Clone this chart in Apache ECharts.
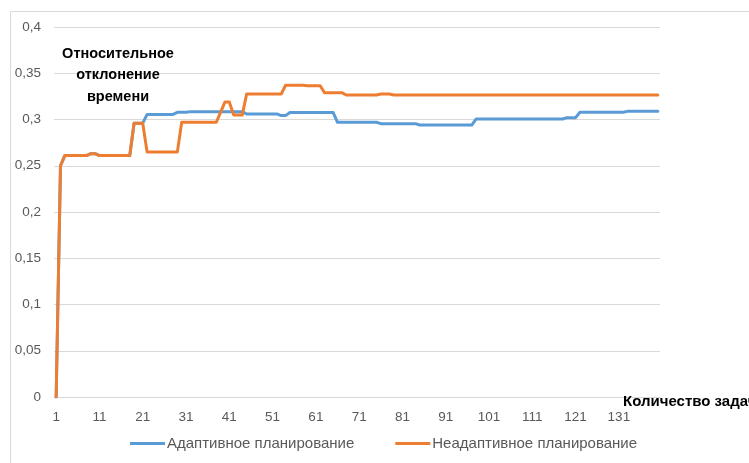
<!DOCTYPE html>
<html>
<head>
<meta charset="utf-8">
<script src="https://cdn.jsdelivr.net/npm/echarts@6/dist/echarts.min.js"></script>
<style>
html,body{margin:0;padding:0;background:#fff;}
#chart{width:749px;height:463px;}
</style>
</head>
<body>
<div id="chart"></div>
<script>
var seriesNames = ['Адаптивное планирование', 'Неадаптивное планирование'];
var yAxisTitle = 'Относительное\nотклонение\nвремени';
var xAxisTitle = 'Количество задач';
var taskCount = 140;
var categories = [];
for (var i = 1; i <= taskCount; i++) categories.push(String(i));

var adaptive = [
  0, 0.25, 0.261, 0.261, 0.261, 0.261, 0.261, 0.261, 0.263, 0.263,
  0.261, 0.261, 0.261, 0.261, 0.261, 0.261, 0.261, 0.261, 0.296, 0.296,
  0.296, 0.3055, 0.3055, 0.3055, 0.3055, 0.3055, 0.3055, 0.3055, 0.3078, 0.3078,
  0.3078, 0.3085, 0.3085, 0.3085, 0.3085, 0.3085, 0.3085, 0.3085, 0.3085, 0.3085,
  0.3085, 0.3085, 0.3085, 0.3085, 0.306, 0.306, 0.306, 0.306, 0.306, 0.306,
  0.306, 0.306, 0.3042, 0.3042, 0.3075, 0.3075, 0.3075, 0.3075, 0.3075, 0.3075,
  0.3075, 0.3075, 0.3075, 0.3075, 0.3075, 0.297, 0.297, 0.297, 0.297, 0.297,
  0.297, 0.297, 0.297, 0.297, 0.297, 0.2955, 0.2955, 0.2955, 0.2955, 0.2955,
  0.2955, 0.2955, 0.2955, 0.2955, 0.294, 0.294, 0.294, 0.294, 0.294, 0.294,
  0.294, 0.294, 0.294, 0.294, 0.294, 0.294, 0.294, 0.3005, 0.3005, 0.3005,
  0.3005, 0.3005, 0.3005, 0.3005, 0.3005, 0.3005, 0.3005, 0.3005, 0.3005, 0.3005,
  0.3005, 0.3005, 0.3005, 0.3005, 0.3005, 0.3005, 0.3005, 0.3005, 0.302, 0.302,
  0.302, 0.3078, 0.3078, 0.3078, 0.3078, 0.3078, 0.3078, 0.3078, 0.3078, 0.3078,
  0.3078, 0.3078, 0.3088, 0.3088, 0.3088, 0.3088, 0.3088, 0.3088, 0.3088, 0.3088
];

var nonAdaptive = [
  0, 0.25, 0.261, 0.261, 0.261, 0.261, 0.261, 0.261, 0.263, 0.263,
  0.261, 0.261, 0.261, 0.261, 0.261, 0.261, 0.261, 0.261, 0.296, 0.296,
  0.296, 0.265, 0.265, 0.265, 0.265, 0.265, 0.265, 0.265, 0.265, 0.297,
  0.297, 0.297, 0.297, 0.297, 0.297, 0.297, 0.297, 0.297, 0.308, 0.319,
  0.319, 0.305, 0.305, 0.305, 0.3276, 0.3276, 0.3276, 0.3276, 0.3276, 0.3276,
  0.3276, 0.3276, 0.3276, 0.337, 0.337, 0.337, 0.337, 0.337, 0.3365, 0.3365,
  0.3365, 0.3365, 0.329, 0.329, 0.329, 0.329, 0.329, 0.3265, 0.3265, 0.3265,
  0.3265, 0.3265, 0.3265, 0.3265, 0.3265, 0.3276, 0.3276, 0.3276, 0.3265, 0.3265,
  0.3265, 0.3265, 0.3265, 0.3265, 0.3265, 0.3265, 0.3265, 0.3265, 0.3265, 0.3265,
  0.3265, 0.3265, 0.3265, 0.3265, 0.3265, 0.3265, 0.3265, 0.3265, 0.3265, 0.3265,
  0.3265, 0.3265, 0.3265, 0.3265, 0.3265, 0.3265, 0.3265, 0.3265, 0.3265, 0.3265,
  0.3265, 0.3265, 0.3265, 0.3265, 0.3265, 0.3265, 0.3265, 0.3265, 0.3265, 0.3265,
  0.3265, 0.3265, 0.3265, 0.3265, 0.3265, 0.3265, 0.3265, 0.3265, 0.3265, 0.3265,
  0.3265, 0.3265, 0.3265, 0.3265, 0.3265, 0.3265, 0.3265, 0.3265, 0.3265, 0.3265
];

var yMin = 0, yMax = 0.4, yStep = 0.05;

var FONT = "'Liberation Sans', Arial, sans-serif";
var chart = echarts.init(document.getElementById('chart'), null, {renderer: 'canvas'});
chart.setOption({
  animation: false,
  backgroundColor: '#ffffff',
  grid: {left: 54, right: 89, top: 27, bottom: 66, containLabel: false},
  xAxis: {
    type: 'category',
    data: categories,
    boundaryGap: true,
    axisLine: {show: true, lineStyle: {color: '#d9d9d9', width: 1}},
    axisTick: {show: false},
    axisLabel: {interval: 9, color: '#595959', fontFamily: FONT, fontSize: 13.5, margin: 13},
    splitLine: {show: false}
  },
  yAxis: {
    type: 'value',
    min: yMin, max: yMax, interval: yStep,
    axisLine: {show: false},
    axisTick: {show: false},
    axisLabel: {
      color: '#595959', fontFamily: FONT, fontSize: 13.5, margin: 13,
      formatter: function (v) { return String(+v.toFixed(2)).replace('.', ','); }
    },
    splitLine: {lineStyle: {color: '#d9d9d9', width: 1}}
  },
  legend: {
    left: 125, top: 431,
    icon: 'rect', itemWidth: 35, itemHeight: 3, itemGap: 41,
    textStyle: {color: '#595959', fontFamily: FONT, fontSize: 15, padding: [0, 0, 0, -3]},
    data: seriesNames
  },
  series: [
    {name: seriesNames[0], type: 'line', data: adaptive, showSymbol: false, symbol: 'none',
     lineStyle: {color: '#5B9BD5', width: 3, join: 'round', cap: 'round'}, itemStyle: {color: '#5B9BD5'}, z: 2},
    {name: seriesNames[1], type: 'line', data: nonAdaptive, showSymbol: false, symbol: 'none',
     lineStyle: {color: '#ED7D31', width: 3, join: 'round', cap: 'round'}, itemStyle: {color: '#ED7D31'}, z: 3}
  ],
  graphic: [
    {type: 'rect', shape: {x: 10.5, y: 11.5, width: 760, height: 470}, style: {fill: 'none', stroke: '#d9d9d9', lineWidth: 1}, silent: true, z: -1},
    {type: 'text', x: 118, y: 75, style: {text: yAxisTitle, font: "bold 14.5px 'Liberation Sans', Arial, sans-serif", fill: '#000000', align: 'center', verticalAlign: 'middle', lineHeight: 21.5}, z: 10},
    {type: 'text', x: 623, y: 402, style: {text: xAxisTitle, font: "bold 15px 'Liberation Sans', Arial, sans-serif", fill: '#000000', align: 'left', verticalAlign: 'middle'}, z: 10}
  ]
});
</script>
</body>
</html>
